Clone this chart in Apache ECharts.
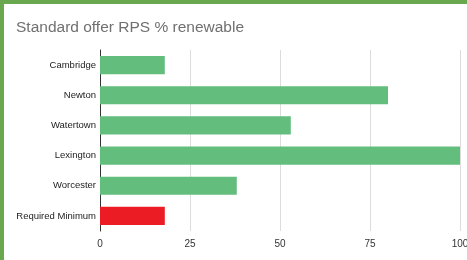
<!DOCTYPE html>
<html>
<head>
<meta charset="utf-8">
<script src="https://cdn.jsdelivr.net/npm/echarts@6/dist/echarts.min.js"></script>
<style>
  html, body { margin: 0; padding: 0; background: #fff; }
  #chart { position: absolute; left: 0; top: 0; width: 467px; height: 260px; }
  .edge { position: absolute; background: #6aa84f; }
</style>
</head>
<body>
<div id="chart"></div>
<div class="edge" style="left:0;top:0;width:467px;height:4px;"></div>
<div class="edge" style="left:0;top:0;width:4px;height:260px;"></div>
<script>
// 城市与数值
const towns = ["Cambridge", "Newton", "Watertown", "Lexington", "Worcester", "Required Minimum"];
const renewable = [18, 80, 53, 100, 38, 18];
const xTicks = [0, 25, 50, 75, 100];

const green = "#63be7e";
const red = "#ec1c24";

var myChart = echarts.init(document.getElementById("chart"));
var option = {
  animation: false,
  title: {
    text: "Standard offer RPS % renewable",
    left: 16,
    top: 20,
    padding: 0,
    textStyle: {
      fontFamily: "Arial, Liberation Sans, sans-serif",
      fontSize: 15.5,
      fontWeight: "normal",
      color: "#707070",
    },
  },
  grid: {
    left: 100,
    right: 7,
    top: 50,
    bottom: 29,
    outerBoundsMode: "none",
  },
  xAxis: {
    type: "value",
    min: xTicks[0],
    max: xTicks[xTicks.length - 1],
    interval: 25,
    axisLine: { show: false },
    axisTick: { show: false },
    axisLabel: {
      margin: 8,
      fontFamily: "Arial, Liberation Sans, sans-serif",
      fontSize: 10,
      color: "#333",
    },
    splitLine: { lineStyle: { color: "#dcdcdc", width: 1 } },
  },
  yAxis: {
    type: "category",
    data: towns,
    inverse: true,
    axisTick: { show: false },
    axisLine: { lineStyle: { color: "#333", width: 1 } },
    axisLabel: {
      margin: 4,
      fontFamily: "Arial, Liberation Sans, sans-serif",
      fontSize: 9.5,
      color: "#222",
    },
  },
  series: [
    {
      type: "bar",
      barWidth: "60%",
      data: renewable.map(function (v, i) {
        return {
          value: v,
          itemStyle: { color: i === towns.length - 1 ? red : green },
        };
      }),
    },
  ],
};
myChart.setOption(option);
</script>
</body>
</html>
